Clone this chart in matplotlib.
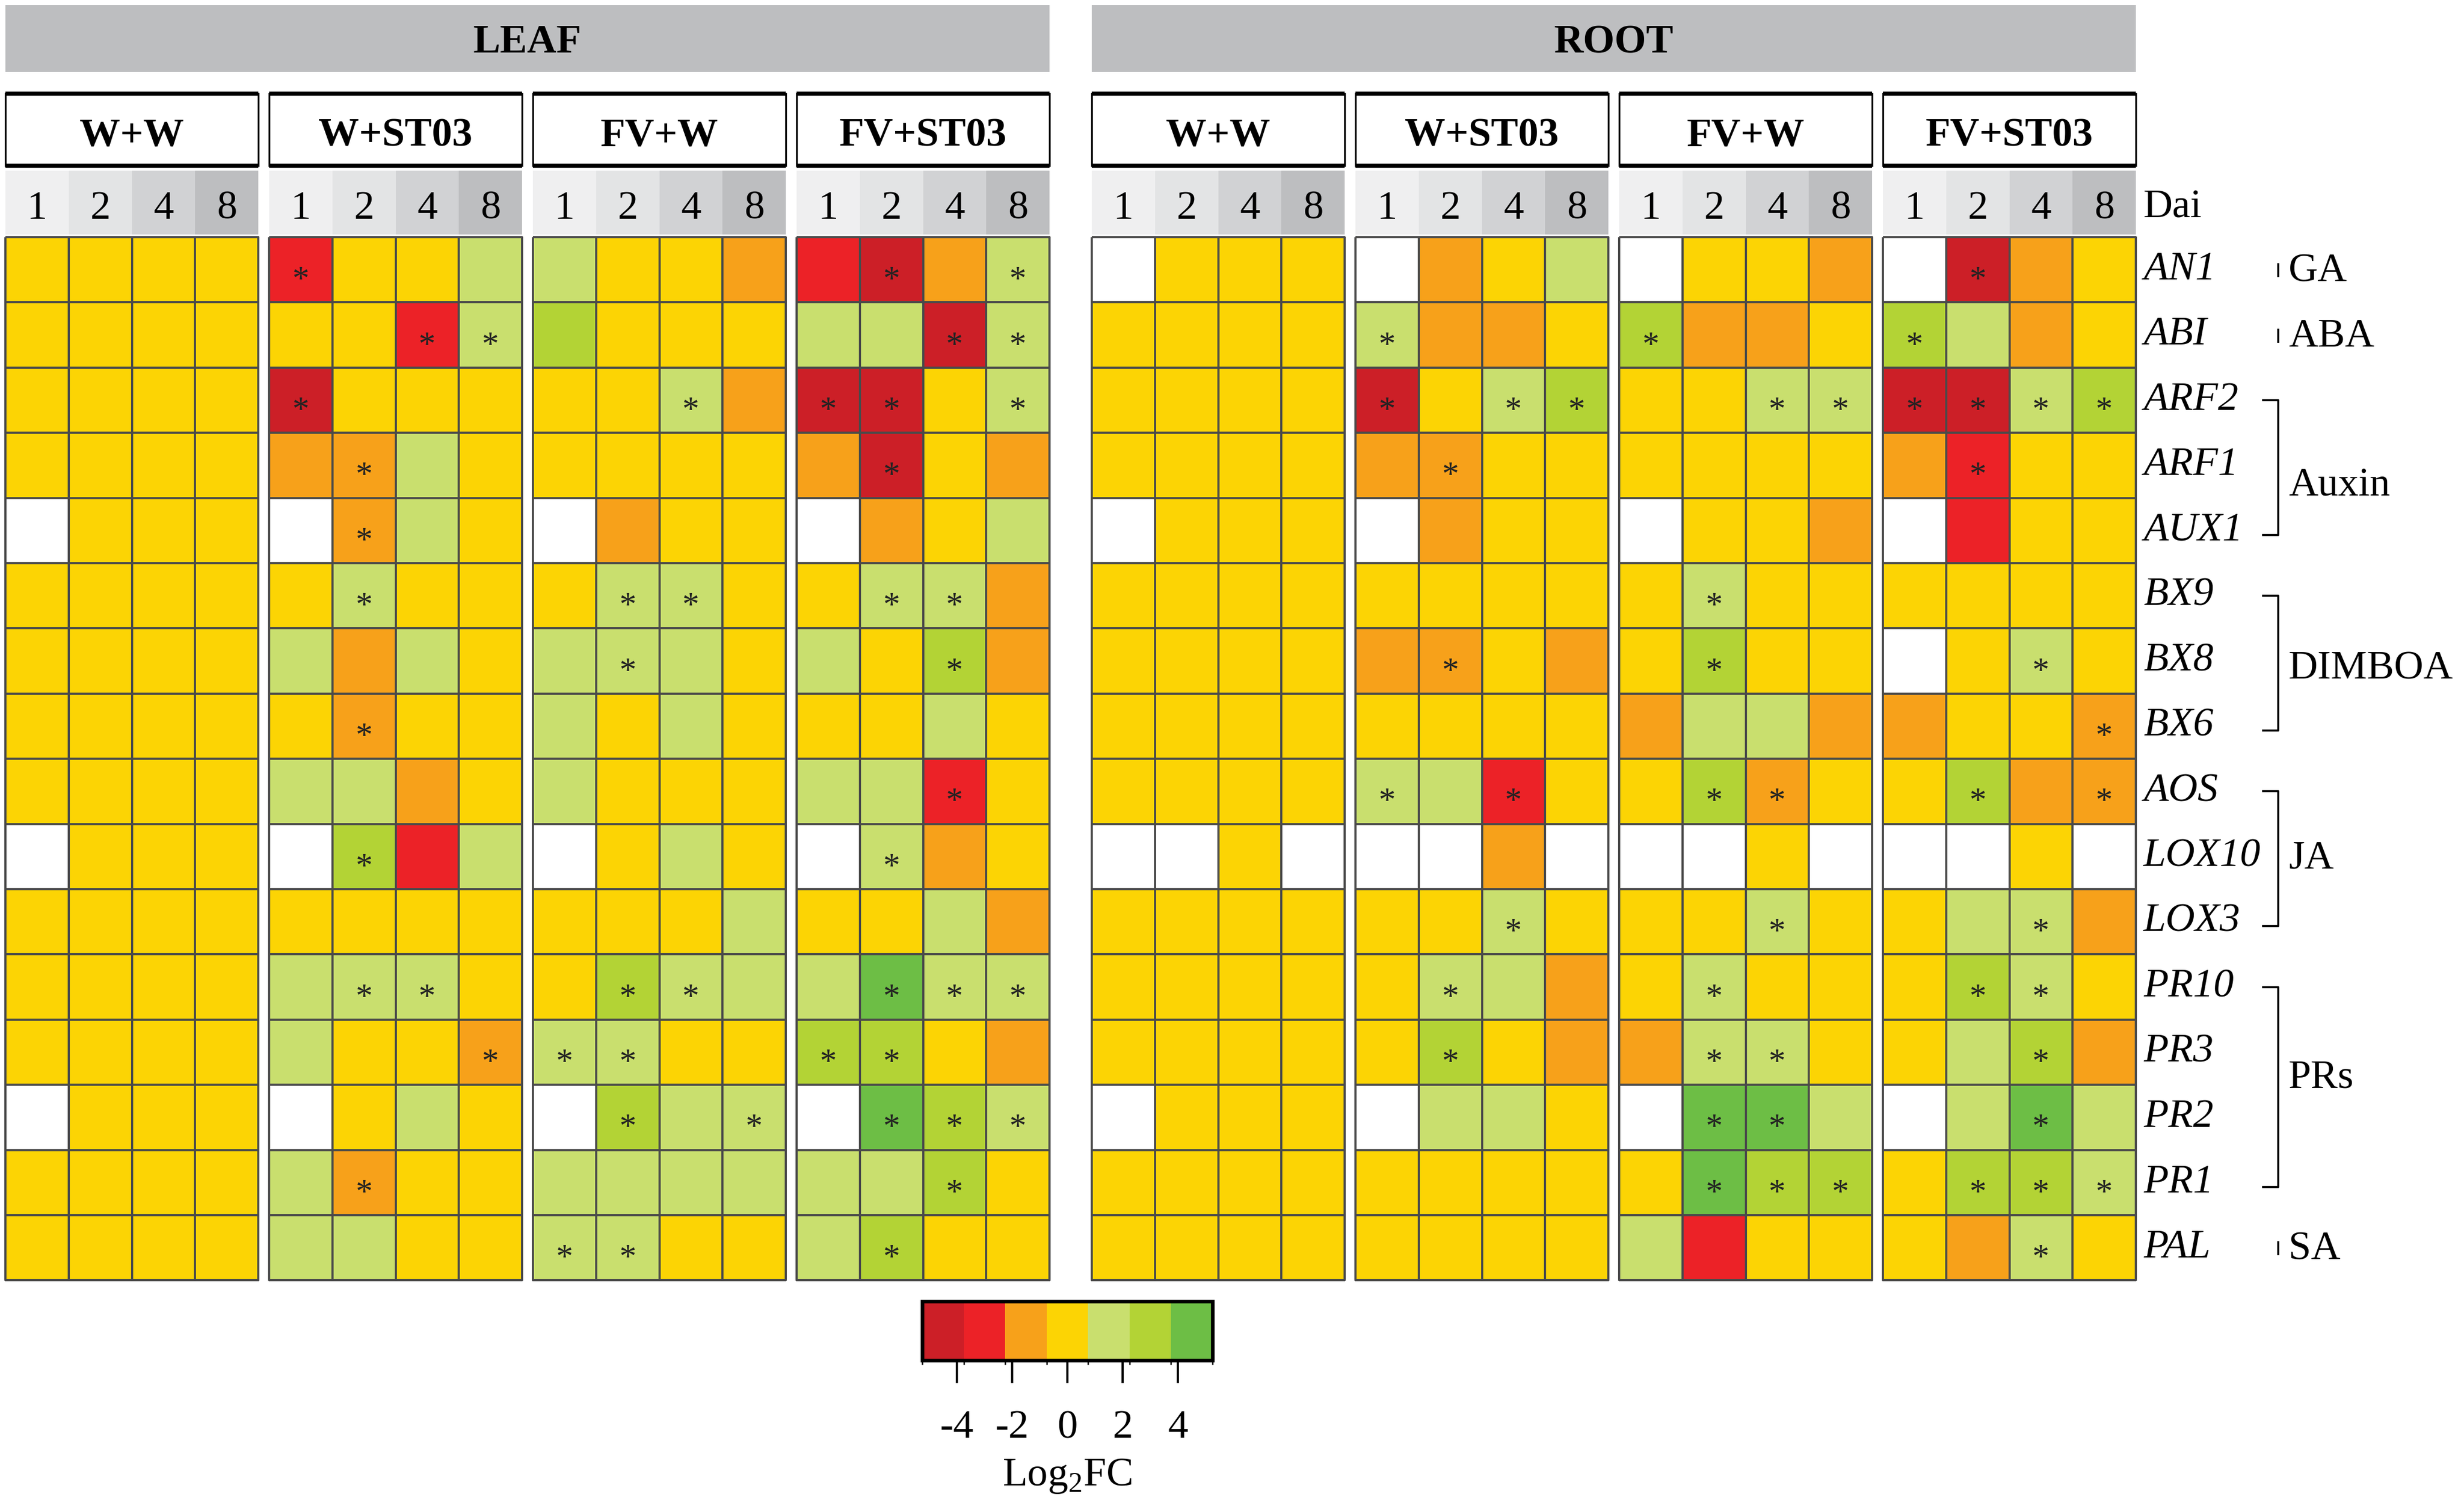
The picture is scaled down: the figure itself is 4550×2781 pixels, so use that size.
import numpy as np
import matplotlib
matplotlib.use("Agg")
import matplotlib.pyplot as plt
from matplotlib.colors import ListedColormap, BoundaryNorm
from matplotlib.patches import Rectangle
from matplotlib.cm import ScalarMappable

plt.rcParams["font.family"] = ["Liberation Serif", "DejaVu Serif"]
plt.rcParams["axes.unicode_minus"] = False
plt.rcParams["mathtext.fontset"] = "custom"
plt.rcParams["mathtext.rm"] = "Liberation Serif"

nan = np.nan

# ---- data (log2 fold change; nan = not detected) ----
genes = ["AN1", "ABI", "ARF2", "ARF1", "AUX1", "BX9", "BX8", "BX6", "AOS",
         "LOX10", "LOX3", "PR10", "PR3", "PR2", "PR1", "PAL"]
days = ["1", "2", "4", "8"]
treatments = ["W+W", "W+ST03", "FV+W", "FV+ST03"]
tissues = ["LEAF", "ROOT"]
hormone_groups = [("GA", 0, 0), ("ABA", 1, 1), ("Auxin", 2, 4), ("DIMBOA", 5, 7),
                  ("JA", 8, 10), ("PRs", 11, 14), ("SA", 15, 15)]

leaf_ww = [[0, 0, 0, 0], [0, 0, 0, 0], [0, 0, 0, 0], [0, 0, 0, 0],
           [nan, 0, 0, 0], [0, 0, 0, 0], [0, 0, 0, 0], [0, 0, 0, 0],
           [0, 0, 0, 0], [nan, 0, 0, 0], [0, 0, 0, 0], [0, 0, 0, 0],
           [0, 0, 0, 0], [nan, 0, 0, 0], [0, 0, 0, 0], [0, 0, 0, 0]]
leaf_wst = [[-3, 0, 0, 1.5], [0, 0, -3, 1.5], [-4.5, 0, 0, 0], [-1.5, -1.5, 1.5, 0],
            [nan, -1.5, 1.5, 0], [0, 1.5, 0, 0], [1.5, -1.5, 1.5, 0], [0, -1.5, 0, 0],
            [1.5, 1.5, -1.5, 0], [nan, 3, -3, 1.5], [0, 0, 0, 0], [1.5, 1.5, 1.5, 0],
            [1.5, 0, 0, -1.5], [nan, 0, 1.5, 0], [1.5, -1.5, 0, 0], [1.5, 1.5, 0, 0]]
leaf_fvw = [[1.5, 0, 0, -1.5], [3, 0, 0, 0], [0, 0, 1.5, -1.5], [0, 0, 0, 0],
            [nan, -1.5, 0, 0], [0, 1.5, 1.5, 0], [1.5, 1.5, 1.5, 0], [1.5, 0, 1.5, 0],
            [1.5, 0, 0, 0], [nan, 0, 1.5, 0], [0, 0, 0, 1.5], [0, 3, 1.5, 1.5],
            [1.5, 1.5, 0, 0], [nan, 3, 1.5, 1.5], [1.5, 1.5, 1.5, 1.5], [1.5, 1.5, 0, 0]]
leaf_fvst = [[-3, -4.5, -1.5, 1.5], [1.5, 1.5, -4.5, 1.5], [-4.5, -4.5, 0, 1.5], [-1.5, -4.5, 0, -1.5],
             [nan, -1.5, 0, 1.5], [0, 1.5, 1.5, -1.5], [1.5, 0, 3, -1.5], [0, 0, 1.5, 0],
             [1.5, 1.5, -3, 0], [nan, 1.5, -1.5, 0], [0, 0, 1.5, -1.5], [1.5, 4.5, 1.5, 1.5],
             [3, 3, 0, -1.5], [nan, 4.5, 3, 1.5], [1.5, 1.5, 3, 0], [1.5, 3, 0, 0]]
root_ww = [[nan, 0, 0, 0], [0, 0, 0, 0], [0, 0, 0, 0], [0, 0, 0, 0],
           [nan, 0, 0, 0], [0, 0, 0, 0], [0, 0, 0, 0], [0, 0, 0, 0],
           [0, 0, 0, 0], [nan, nan, 0, nan], [0, 0, 0, 0], [0, 0, 0, 0],
           [0, 0, 0, 0], [nan, 0, 0, 0], [0, 0, 0, 0], [0, 0, 0, 0]]
root_wst = [[nan, -1.5, 0, 1.5], [1.5, -1.5, -1.5, 0], [-4.5, 0, 1.5, 3], [-1.5, -1.5, 0, 0],
            [nan, -1.5, 0, 0], [0, 0, 0, 0], [-1.5, -1.5, 0, -1.5], [0, 0, 0, 0],
            [1.5, 1.5, -3, 0], [nan, nan, -1.5, nan], [0, 0, 1.5, 0], [0, 1.5, 1.5, -1.5],
            [0, 3, 0, -1.5], [nan, 1.5, 1.5, 0], [0, 0, 0, 0], [0, 0, 0, 0]]
root_fvw = [[nan, 0, 0, -1.5], [3, -1.5, -1.5, 0], [0, 0, 1.5, 1.5], [0, 0, 0, 0],
            [nan, 0, 0, -1.5], [0, 1.5, 0, 0], [0, 3, 0, 0], [-1.5, 1.5, 1.5, -1.5],
            [0, 3, -1.5, 0], [nan, nan, 0, nan], [0, 0, 1.5, 0], [0, 1.5, 0, 0],
            [-1.5, 1.5, 1.5, 0], [nan, 4.5, 4.5, 1.5], [0, 4.5, 3, 3], [1.5, -3, 0, 0]]
root_fvst = [[nan, -4.5, -1.5, 0], [3, 1.5, -1.5, 0], [-4.5, -4.5, 1.5, 3], [-1.5, -3, 0, 0],
             [nan, -3, 0, 0], [0, 0, 0, 0], [nan, 0, 1.5, 0], [-1.5, 0, 0, -1.5],
             [0, 3, -1.5, -1.5], [nan, nan, 0, nan], [0, 1.5, 1.5, -1.5], [0, 3, 1.5, 0],
             [0, 1.5, 3, -1.5], [nan, 1.5, 4.5, 1.5], [0, 3, 3, 1.5], [0, -1.5, 1.5, 0]]

# significant cells (row, day index)
leaf_ww_sig = []
leaf_wst_sig = [(0, 0), (1, 2), (1, 3), (2, 0), (3, 1), (4, 1), (5, 1), (7, 1), (9, 1),
                (11, 1), (11, 2), (12, 3), (14, 1)]
leaf_fvw_sig = [(2, 2), (5, 1), (5, 2), (6, 1), (11, 1), (11, 2), (12, 0), (12, 1),
                (13, 1), (13, 3), (15, 0), (15, 1)]
leaf_fvst_sig = [(0, 1), (0, 3), (1, 2), (1, 3), (2, 0), (2, 1), (2, 3), (3, 1), (5, 1), (5, 2),
                 (6, 2), (8, 2), (9, 1), (11, 1), (11, 2), (11, 3), (12, 0), (12, 1),
                 (13, 1), (13, 2), (13, 3), (14, 2), (15, 1)]
root_ww_sig = []
root_wst_sig = [(1, 0), (2, 0), (2, 2), (2, 3), (3, 1), (6, 1), (8, 0), (8, 2), (10, 2),
                (11, 1), (12, 1)]
root_fvw_sig = [(1, 0), (2, 2), (2, 3), (5, 1), (6, 1), (8, 1), (8, 2), (10, 2), (11, 1),
                (12, 1), (12, 2), (13, 1), (13, 2), (14, 1), (14, 2), (14, 3)]
root_fvst_sig = [(0, 1), (1, 0), (2, 0), (2, 1), (2, 2), (2, 3), (3, 1), (6, 2), (7, 3),
                 (8, 1), (8, 3), (10, 2), (11, 1), (11, 2), (12, 2), (13, 2),
                 (14, 1), (14, 2), (14, 3), (15, 2)]

panels = [[leaf_ww, leaf_wst, leaf_fvw, leaf_fvst], [root_ww, root_wst, root_fvw, root_fvst]]
panel_sigs = [[leaf_ww_sig, leaf_wst_sig, leaf_fvw_sig, leaf_fvst_sig],
              [root_ww_sig, root_wst_sig, root_fvw_sig, root_fvst_sig]]

# ---- colour scale ----
class_colors = ["#CC1F27", "#EC2227", "#F7A11A", "#FCD404", "#C9DF6E", "#B3D335", "#6DBE45"]
class_edges = [-5.25, -3.75, -2.25, -0.75, 0.75, 2.25, 3.75, 5.25]
cbar_ticks = [-4, -2, 0, 2, 4]
day_shades = ["#EFEFF0", "#E3E4E5", "#D1D2D4", "#BDBEC0"]

cmap = ListedColormap(class_colors)
cmap.set_bad("white")
norm = BoundaryNorm(class_edges, cmap.N)

# ---- layout (pixels) ----
W, H = 4550, 2781
LEFT = 10
GROUP_W = 467
GAP = 20
PANEL_GAP = 78
GRID_TOP = 438
ROW_H = 120.4
PANEL_W = 4 * GROUP_W + 3 * GAP
group_label_dy = [4, 4, 38, 15, 4, -12, 4]   # nudges of the hormone labels

fig = plt.figure(figsize=(W / 300, H / 300), dpi=300)
ax = fig.add_axes([0, 0, 1, 1])
ax.set_xlim(0, W)
ax.set_ylim(H, 0)
ax.axis("off")

n_rows = len(genes)
ye = GRID_TOP + ROW_H * np.arange(n_rows + 1)

for p, tissue in enumerate(tissues):
    px0 = LEFT + p * (PANEL_W + PANEL_GAP)
    ax.add_patch(Rectangle((px0, 9), PANEL_W, 124, facecolor="#BDBEC0", edgecolor="none"))
    ax.text(px0 + PANEL_W / 2, 79, tissue, ha="center", va="center",
            fontsize=18, fontweight="bold")
    for t, trt in enumerate(treatments):
        x0 = px0 + t * (GROUP_W + GAP)
        cw = GROUP_W / len(days)
        # treatment box
        ax.add_patch(Rectangle((x0, 173), GROUP_W, 133, facecolor="white",
                               edgecolor="black", linewidth=0.8))
        ax.hlines([173, 306], x0, x0 + GROUP_W, color="black", linewidth=1.8)
        ax.text(x0 + GROUP_W / 2, 252, trt, ha="center", va="center",
                fontsize=18, fontweight="bold")
        # day header
        for d, day in enumerate(days):
            ax.add_patch(Rectangle((x0 + d * cw, 315), cw, 118,
                                   facecolor=day_shades[d], edgecolor="none"))
            ax.text(x0 + (d + 0.5) * cw, 386, day, ha="center", va="center", fontsize=18)
        # heatmap cells
        vals = np.ma.masked_invalid(np.array(panels[p][t], dtype=float))
        xe = x0 + cw * np.arange(len(days) + 1)
        ax.pcolormesh(xe, ye, vals, cmap=cmap, norm=norm,
                      edgecolors="#4a4a4a", linewidth=0.55)
        for r, c in panel_sigs[p][t]:
            ax.text(xe[c] + cw / 2, ye[r] + ROW_H / 2 + 22, "*", ha="center",
                    va="center", fontsize=15, color="#222222")

# right-hand labels
label_x = LEFT + 2 * PANEL_W + PANEL_GAP + 14
ax.text(label_x, 384, "Dai", ha="left", va="center", fontsize=18)
for i, g in enumerate(genes):
    ax.text(label_x, ye[i] + ROW_H / 2, g, ha="left", va="center",
            fontsize=18, style="italic")

bx = 4207
for (name, r0, r1), dy in zip(hormone_groups, group_label_dy):
    yc0 = ye[r0] + ROW_H / 2
    yc1 = ye[r1] + ROW_H / 2
    if r0 == r1:
        ax.vlines(bx, yc0 - 12, yc0 + 14, color="black", linewidth=0.9)
    else:
        ax.plot([bx - 28, bx, bx, bx - 28], [yc0, yc0, yc1 + 8, yc1 + 8],
                color="black", linewidth=0.9)
    ax.text(bx + 19, (yc0 + yc1) / 2 + dy, name, ha="left", va="center", fontsize=18)

# colour bar
cb_x0, cb_x1, cb_y0, cb_y1 = 1703, 2239, 2403, 2512
cax = fig.add_axes([cb_x0 / W, 1 - cb_y1 / H, (cb_x1 - cb_x0) / W, (cb_y1 - cb_y0) / H])
cb = fig.colorbar(ScalarMappable(norm=norm, cmap=cmap), cax=cax,
                  orientation="horizontal", ticks=cbar_ticks)
cb.outline.set_linewidth(1.6)
cax.tick_params(length=10, width=1.0, labelsize=18, pad=12)
ax.text((cb_x0 + cb_x1) / 2, 2726, r"Log$_\mathregular{2}$FC", ha="center",
        va="center", fontsize=18)

fig.savefig("out.png", dpi=300)
